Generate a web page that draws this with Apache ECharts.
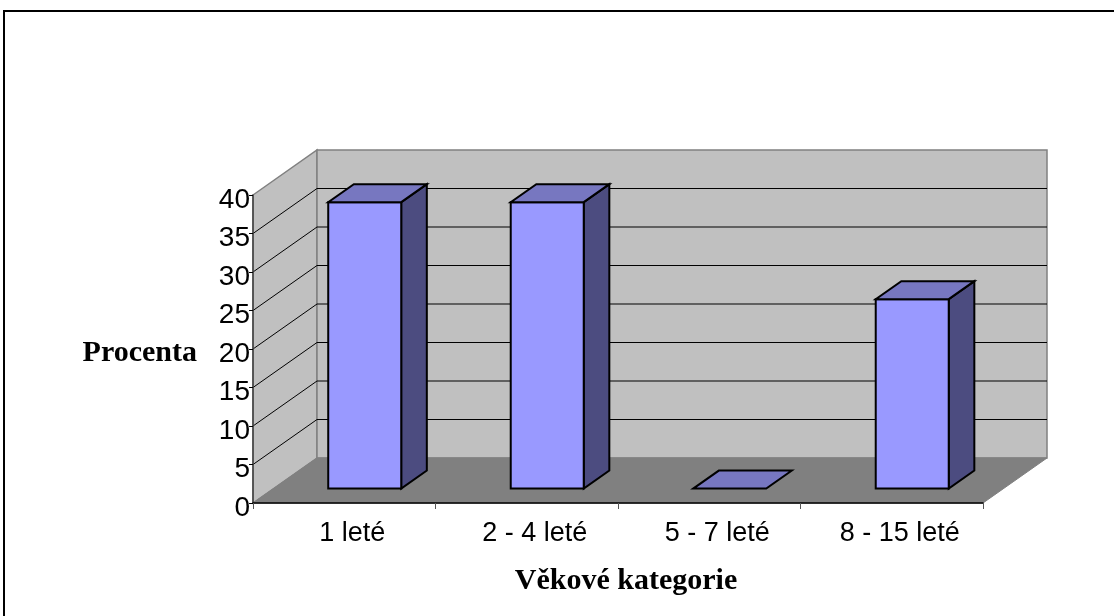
<!DOCTYPE html>
<html>
<head>
<meta charset="utf-8">
<script src="https://cdn.jsdelivr.net/npm/echarts@6/dist/echarts.min.js"></script>
<style>
  html, body { margin: 0; padding: 0; background: #fff; }
  #chart { width: 1114px; height: 616px; }
</style>
</head>
<body>
<div id="chart"></div>
<script>
// Age groups and the share of each group, in percent
const categories = ['1 leté', '2 - 4 leté', '5 - 7 leté', '8 - 15 leté'];
const percentages = [37.2, 37.2, 0, 24.6];
const valueTicks = [0, 5, 10, 15, 20, 25, 30, 35, 40];
const valueAxisTitle = 'Procenta';
const categoryAxisTitle = 'Věkové kategorie';

// Oblique depth of the 3D box (back wall offset) and where the bars sit in it
const DEPTH_X = 64;
const DEPTH_Y = -45;
const BAR_FRONT = 0.32;
const BAR_BACK = 0.72;
const BAR_RATIO = 0.4;

const WALL = '#c0c0c0';
const FLOOR = '#808080';
const EDGE = '#808080';
const BAR_FRONT_COLOR = '#9999ff';
const BAR_TOP_COLOR = '#7777c0';
const BAR_SIDE_COLOR = '#4c4c80';

const SANS = '"Liberation Sans", Arial, sans-serif';
const SERIF = '"Liberation Serif", "Times New Roman", serif';

const tickMin = valueTicks[0];
const tickMax = valueTicks[valueTicks.length - 1];
const tickStep = valueTicks[1] - valueTicks[0];

function renderWalls(params, api) {
  const cs = params.coordSys;
  const x0 = cs.x, x1 = cs.x + cs.width;
  const yAt = v => api.coord([0, v])[1];
  const y0 = yAt(tickMin), yTop = yAt(tickMax);
  const dx = DEPTH_X, dy = DEPTH_Y;
  const children = [];
  // left side wall
  children.push({
    type: 'polygon',
    shape: { points: [[x0, yTop], [x0 + dx, yTop + dy], [x0 + dx, y0 + dy], [x0, y0]] },
    style: { fill: WALL, stroke: EDGE, lineWidth: 1.5 }
  });
  // back wall
  children.push({
    type: 'rect',
    shape: { x: x0 + dx, y: yTop + dy, width: x1 - x0, height: y0 - yTop },
    style: { fill: WALL, stroke: EDGE, lineWidth: 1.5 }
  });
  // floor
  children.push({
    type: 'polygon',
    shape: { points: [[x0, y0], [x1, y0], [x1 + dx, y0 + dy], [x0 + dx, y0 + dy]] },
    style: { fill: FLOOR, stroke: EDGE, lineWidth: 1 }
  });
  // gridlines on the back wall and the side wall
  valueTicks.forEach(v => {
    if (v <= tickMin || v >= tickMax) return;
    const y = yAt(v);
    children.push({
      type: 'line',
      shape: { x1: x0 + dx, y1: y + dy, x2: x1 + dx, y2: y + dy },
      style: { stroke: '#000', lineWidth: 1 }
    });
    children.push({
      type: 'line',
      shape: { x1: x0, y1: y, x2: x0 + dx, y2: y + dy },
      style: { stroke: '#000', lineWidth: 1 }
    });
  });
  return { type: 'group', children };
}

function renderBar(params, api) {
  const idx = api.value(0);
  const val = api.value(1);
  const base = api.coord([idx, 0]);
  const top = api.coord([idx, val]);
  const band = api.size([1, 0])[0];
  const w = band * BAR_RATIO;
  const fx = DEPTH_X * BAR_FRONT, fy = DEPTH_Y * BAR_FRONT;
  const bx = DEPTH_X * (BAR_BACK - BAR_FRONT), by = DEPTH_Y * (BAR_BACK - BAR_FRONT);
  const left = base[0] - w / 2 + fx;
  const right = left + w;
  const yb = base[1] + fy;
  const yt = top[1] + fy;
  const line = { stroke: '#000', lineWidth: 2, lineJoin: 'miter' };
  const children = [];
  if (yb - yt > 0.5) {
    children.push({
      type: 'polygon',
      shape: { points: [[right, yt], [right + bx, yt + by], [right + bx, yb + by], [right, yb]] },
      style: Object.assign({ fill: BAR_SIDE_COLOR }, line)
    });
    children.push({
      type: 'rect',
      shape: { x: left, y: yt, width: w, height: yb - yt },
      style: Object.assign({ fill: BAR_FRONT_COLOR }, line)
    });
  }
  children.push({
    type: 'polygon',
    shape: { points: [[left, yt], [right, yt], [right + bx, yt + by], [left + bx, yt + by]] },
    style: Object.assign({ fill: BAR_TOP_COLOR }, line)
  });
  return { type: 'group', children };
}

const chart = echarts.init(document.getElementById('chart'), null, { renderer: 'canvas' });

chart.setOption({
  backgroundColor: '#fff',
  animation: false,
  graphic: [{
    type: 'rect',
    shape: { x: 4, y: 11, width: 1200, height: 700 },
    style: { fill: null, stroke: '#000', lineWidth: 2 },
    z: 100
  }],
  grid: { left: 253, top: 195, width: 730, height: 308 },
  xAxis: {
    type: 'category',
    data: categories,
    z: 10,
    axisLine: { show: true, lineStyle: { color: '#000', width: 1.5 } },
    axisTick: { show: true, length: 6, lineStyle: { color: '#555' } },
    axisLabel: {
      fontFamily: SANS, fontSize: 27, color: '#000', margin: 17,
      padding: [0, 0, 0, 16], interval: 0
    },
    name: categoryAxisTitle,
    nameLocation: 'middle',
    nameGap: 63,
    nameTextStyle: {
      fontFamily: SERIF, fontSize: 30, fontWeight: 'bold', color: '#000',
      padding: [0, 0, 0, 16]
    }
  },
  yAxis: {
    type: 'value',
    min: tickMin,
    max: tickMax,
    interval: tickStep,
    z: 10,
    splitLine: { show: false },
    axisLine: { show: true, lineStyle: { color: '#404040', width: 1.5 } },
    axisTick: { show: true, length: 4, lineStyle: { color: '#000' } },
    axisLabel: {
      fontFamily: SANS, fontSize: 28, color: '#000', margin: 3,
      verticalAlign: 'top', lineHeight: 10
    },
    name: valueAxisTitle,
    nameLocation: 'middle',
    nameRotate: 0,
    nameGap: 56,
    nameTextStyle: {
      fontFamily: SERIF, fontSize: 30, fontWeight: 'bold', color: '#000',
      align: 'right', verticalAlign: 'top', lineHeight: 8
    }
  },
  series: [
    {
      type: 'custom',
      name: 'walls',
      z: 1,
      silent: true,
      data: [[0, 0]],
      encode: { x: 0, y: 1 },
      renderItem: renderWalls
    },
    {
      type: 'custom',
      name: 'Procenta',
      z: 3,
      data: percentages.map((v, i) => [i, v]),
      encode: { x: 0, y: 1 },
      renderItem: renderBar
    }
  ]
});
</script>
</body>
</html>
